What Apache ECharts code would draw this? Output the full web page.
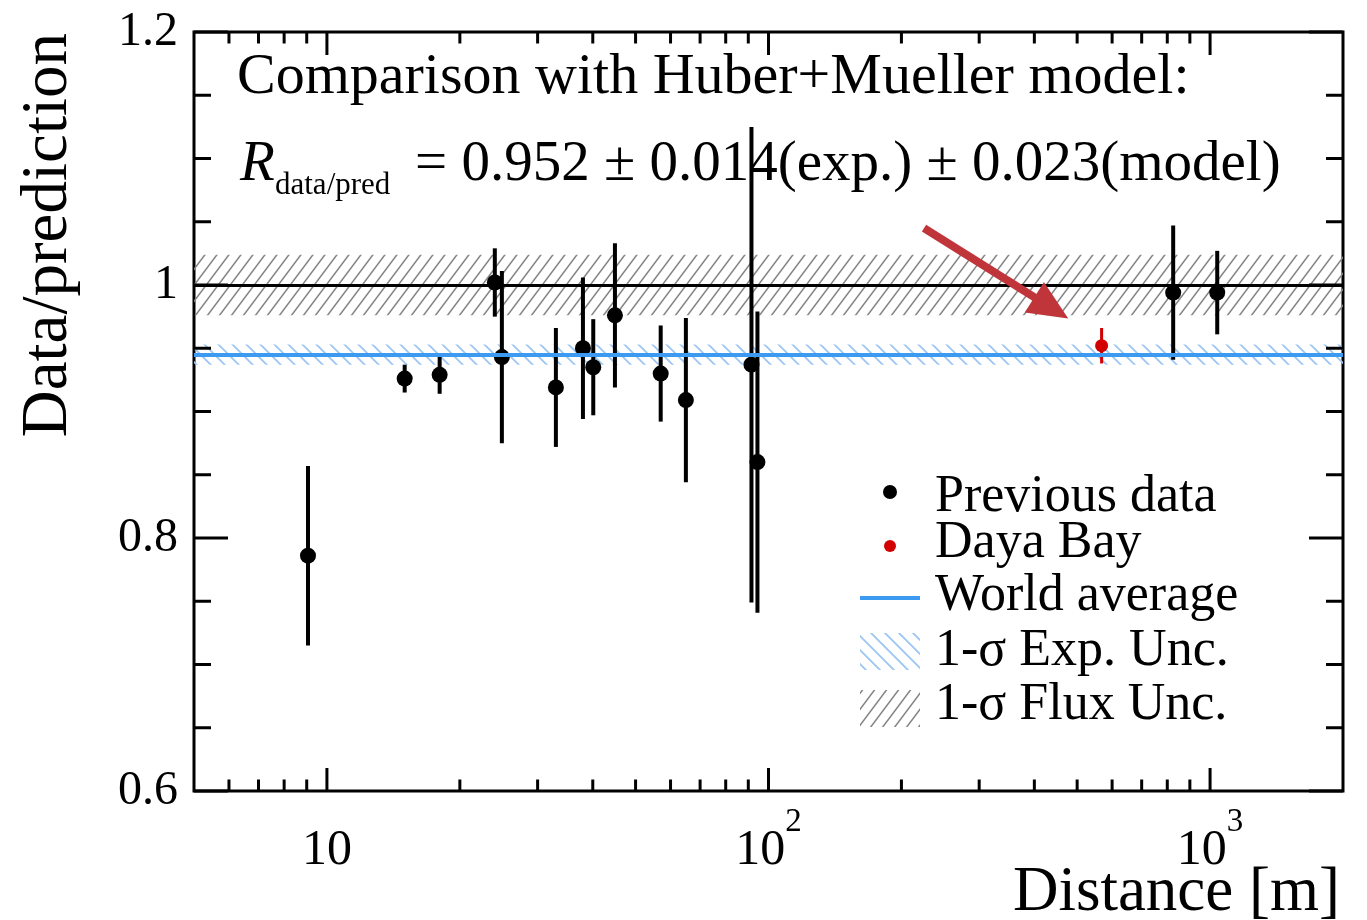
<!DOCTYPE html>
<html>
<head>
<meta charset="utf-8">
<title>Data/prediction vs distance</title>
<script src="https://cdn.jsdelivr.net/npm/echarts@6/dist/echarts.min.js"></script>
<style>
  html, body { margin: 0; padding: 0; background: #ffffff; }
  #chart { width: 1367px; height: 920px; }
</style>
</head>
<body>
<div id="chart"></div>
<script>
// Reactor antineutrino measurements: measured rate divided by the Huber+Mueller prediction
const previousDistances = [9.06, 15.0, 18.0, 24.0, 24.9, 33.0, 38.0, 40.1, 44.9, 57.0, 65.0, 91.5, 94.4, 825, 1038];
const previousRatios    = [0.786, 0.926, 0.929, 1.002, 0.943, 0.919, 0.950, 0.935, 0.976, 0.930, 0.909, 0.937, 0.860, 0.994, 0.994];
const previousErrors    = [0.071, 0.011, 0.015, 0.027, 0.068, 0.047, 0.056, 0.038, 0.057, 0.038, 0.065, 0.188, 0.119, 0.053, 0.033];

const dayaBayDistances = [568];
const dayaBayRatios    = [0.952];
const dayaBayErrors    = [0.014];

const predictionRatio = [1.0];
const fluxUncertainty = [0.024];
const worldAverage    = [0.945];
const worldAverageExpUncertainty = [0.008];

const xRange = [5, 2000];
const yRange = [0.6, 1.2];
const xMajorTicks = [10, 100, 1000];
const xMinorTicks = [6, 7, 8, 9, 20, 30, 40, 50, 60, 70, 80, 90, 200, 300, 400, 500, 600, 700, 800, 900];
const yMajorTicks = [0.6, 0.8, 1.0, 1.2];
const yMinorTicks = [0.65, 0.7, 0.75, 0.85, 0.9, 0.95, 1.05, 1.1, 1.15];

const legendLabels = ['Previous data', 'Daya Bay', 'World average', '1-σ Exp. Unc.', '1-σ Flux Unc.'];

const SERIF = '"Liberation Serif", "Times New Roman", "DejaVu Serif", serif';
const BLUE = '#3c9af0';
const BLUE_HATCH = '#9cc6f2';
const GREY_HATCH = '#858585';
const RED = '#d20000';
const ARROW = '#c0353a';

// Tiled diagonal hatching used as a fill pattern
function hatchPattern(color, w, h, dir, lw) {
  const c = document.createElement('canvas');
  c.width = w; c.height = h;
  const g = c.getContext('2d');
  g.strokeStyle = color;
  g.lineWidth = lw;
  g.beginPath();
  for (let k = -1; k <= 1; k++) {
    if (dir === '/') { g.moveTo(k * w - w, 2 * h); g.lineTo(k * w + 2 * w, -h); }
    else { g.moveTo(k * w - w, -h); g.lineTo(k * w + 2 * w, 2 * h); }
  }
  g.stroke();
  return { image: c, repeat: 'repeat' };
}
const greyHatch = hatchPattern(GREY_HATCH, 12, 16, '/', 1.6);
const blueHatch = hatchPattern(BLUE_HATCH, 14, 14, '\\', 1.8);

function errorBar(width, color) {
  return function (params, api) {
    const x = api.value(0), y = api.value(1), e = api.value(2);
    const lo = api.coord([x, y - e]);
    const hi = api.coord([x, y + e]);
    return {
      type: 'line',
      shape: { x1: lo[0], y1: lo[1], x2: hi[0], y2: hi[1] },
      style: { stroke: color, lineWidth: width }
    };
  };
}

const chart = echarts.init(document.getElementById('chart'), null, { renderer: 'canvas' });

// text placed by its baseline
function txt(x, baseline, size, text, extra) {
  return Object.assign({
    type: 'text', x: x, y: baseline - 0.305 * size, silent: true,
    style: Object.assign({
      text: text, font: size + 'px ' + SERIF, fill: '#000',
      align: 'left', textAlign: 'left', verticalAlign: 'middle', textVerticalAlign: 'middle'
    }, (extra && extra.style) || {})
  }, extra && extra.el ? extra.el : {});
}

const option = {
  animation: false,
  backgroundColor: '#ffffff',
  grid: {
    left: 194, right: 24, top: 32, bottom: 129,
    show: true, borderColor: '#000', borderWidth: 3, backgroundColor: 'transparent',
    outerBoundsMode: 'none', containLabel: false
  },
  xAxis: {
    type: 'log', logBase: 10, min: xRange[0], max: xRange[1],
    axisLine: { show: false }, axisTick: { show: false }, splitLine: { show: false },
    axisLabel: {
      margin: 15, color: '#000', fontFamily: SERIF, fontSize: 50,
      showMinLabel: false, showMaxLabel: false,
      formatter: function (v) {
        const e = Math.round(Math.log10(v));
        if (Math.abs(Math.pow(10, e) - v) > 1e-6 * v || xMajorTicks.indexOf(Math.pow(10, e)) < 0) return '';
        return e === 1 ? '{base|10}' : '{base|10}{sup|' + e + '}';
      },
      rich: {
        base: { fontSize: 50, fontFamily: SERIF, color: '#000', verticalAlign: 'bottom', lineHeight: 70 },
        sup: { fontSize: 33, fontFamily: SERIF, color: '#000', verticalAlign: 'top' }
      }
    }
  },
  yAxis: {
    type: 'value', min: yRange[0], max: yRange[1], interval: 0.2,
    axisLine: { show: false }, axisTick: { show: false }, splitLine: { show: false },
    axisLabel: { margin: 16, color: '#000', fontFamily: SERIF, fontSize: 48 }
  },
  series: [
    {
      name: 'Uncertainty bands', type: 'line', data: [], z: 1, silent: true,
      markArea: {
        silent: true,
        data: [
          [{ yAxis: predictionRatio[0] - fluxUncertainty[0], itemStyle: { color: greyHatch } },
           { yAxis: predictionRatio[0] + fluxUncertainty[0] }],
          [{ yAxis: worldAverage[0] - worldAverageExpUncertainty[0], itemStyle: { color: blueHatch } },
           { yAxis: worldAverage[0] + worldAverageExpUncertainty[0] }]
        ]
      }
    },
    {
      name: 'Reference lines', type: 'line', data: [], z: 2, silent: true,
      markLine: {
        silent: true, symbol: 'none', label: { show: false }, precision: 6,
        data: [
          { yAxis: predictionRatio[0], lineStyle: { color: '#000', width: 3, type: 'solid' } },
          { yAxis: worldAverage[0], lineStyle: { color: BLUE, width: 4, type: 'solid' } }
        ]
      }
    },
    {
      name: 'Previous data errors', type: 'custom', z: 3, silent: true,
      data: previousDistances.map((d, i) => [d, previousRatios[i], previousErrors[i]]),
      encode: { x: 0, y: 1 },
      renderItem: errorBar(4, '#000')
    },
    {
      name: 'Daya Bay errors', type: 'custom', z: 3, silent: true,
      data: dayaBayDistances.map((d, i) => [d, dayaBayRatios[i], dayaBayErrors[i]]),
      encode: { x: 0, y: 1 },
      renderItem: errorBar(3, RED)
    },
    {
      name: legendLabels[0], type: 'scatter', z: 4, silent: true,
      symbol: 'circle', symbolSize: 16, itemStyle: { color: '#000', opacity: 1 },
      data: previousDistances.map((d, i) => [d, previousRatios[i]])
    },
    {
      name: legendLabels[1], type: 'scatter', z: 4, silent: true,
      symbol: 'circle', symbolSize: 13, itemStyle: { color: RED, opacity: 1 },
      data: dayaBayDistances.map((d, i) => [d, dayaBayRatios[i]])
    },
    {
      // frame ticks on bottom and top edges
      name: 'x ticks', type: 'custom', z: 5, silent: true,
      dimensions: ['value', 'major'], encode: { x: 'value' },
      data: xMajorTicks.map(v => [v, 1]).concat(xMinorTicks.map(v => [v, 0])),
      renderItem: function (params, api) {
        const cs = params.coordSys;
        const px = api.coord([api.value(0), yRange[0]])[0];
        const len = api.value(1) ? 23 : 11.5;
        const bottom = cs.y + cs.height;
        return {
          type: 'group', children: [
            { type: 'line', shape: { x1: px, y1: bottom, x2: px, y2: bottom - len }, style: { stroke: '#000', lineWidth: 3 } },
            { type: 'line', shape: { x1: px, y1: cs.y, x2: px, y2: cs.y + len }, style: { stroke: '#000', lineWidth: 3 } }
          ]
        };
      }
    },
    {
      // frame ticks on left and right edges
      name: 'y ticks', type: 'custom', z: 5, silent: true,
      dimensions: ['value', 'major'], encode: { y: 'value' },
      data: yMajorTicks.map(v => [v, 1]).concat(yMinorTicks.map(v => [v, 0])),
      renderItem: function (params, api) {
        const cs = params.coordSys;
        const py = api.coord([xRange[0], api.value(0)])[1];
        const len = api.value(1) ? 34 : 17;
        const right = cs.x + cs.width;
        return {
          type: 'group', children: [
            { type: 'line', shape: { x1: cs.x, y1: py, x2: cs.x + len, y2: py }, style: { stroke: '#000', lineWidth: 3 } },
            { type: 'line', shape: { x1: right, y1: py, x2: right - len, y2: py }, style: { stroke: '#000', lineWidth: 3 } }
          ]
        };
      }
    },
    {
      name: 'Daya Bay pointer', type: 'line', data: [], z: 6, silent: true,
      markLine: {
        silent: true, symbol: ['none', 'triangle'], symbolSize: [36, 40], precision: 6,
        label: { show: false },
        lineStyle: { color: ARROW, width: 8, type: 'solid' },
        itemStyle: { color: ARROW },
        data: [[{ coord: [225, 1.045] }, { coord: [437, 0.982] }]]
      }
    }
  ],
  graphic: [
    txt(237, 95, 58, 'Comparison with Huber+Mueller model:'),
    txt(240, 182, 57, 'R', { style: { font: 'italic 57px ' + SERIF } }),
    txt(275, 195, 31, 'data/pred'),
    txt(415, 182, 57, '= 0.952 ± 0.014(exp.) ± 0.023(model)'),
    // axis titles
    txt(1340, 913, 63, 'Distance [m]', { style: { align: 'right', textAlign: 'right' } }),
    {
      type: 'text', x: 69 - 0.305 * 65, y: 33, rotation: Math.PI / 2, silent: true,
      style: {
        text: 'Data/prediction', font: '65px ' + SERIF, fill: '#000',
        align: 'right', textAlign: 'right', verticalAlign: 'middle', textVerticalAlign: 'middle'
      }
    },
    // legend
    { type: 'circle', shape: { cx: 890, cy: 492, r: 7 }, style: { fill: '#000' }, silent: true },
    { type: 'circle', shape: { cx: 890, cy: 546, r: 6 }, style: { fill: RED }, silent: true },
    { type: 'line', shape: { x1: 860, y1: 598, x2: 920, y2: 598 }, style: { stroke: BLUE, lineWidth: 4 }, silent: true },
    { type: 'rect', shape: { x: 860, y: 633, width: 60, height: 37 }, style: { fill: blueHatch }, silent: true },
    { type: 'rect', shape: { x: 860, y: 690, width: 60, height: 37 }, style: { fill: greyHatch }, silent: true },
    txt(935, 513, 52, legendLabels[0]),
    txt(935, 559, 52, legendLabels[1]),
    txt(935, 612, 52, legendLabels[2]),
    txt(935, 667, 52, legendLabels[3]),
    txt(935, 721, 52, legendLabels[4])
  ]
};

chart.setOption(option);
</script>
</body>
</html>
